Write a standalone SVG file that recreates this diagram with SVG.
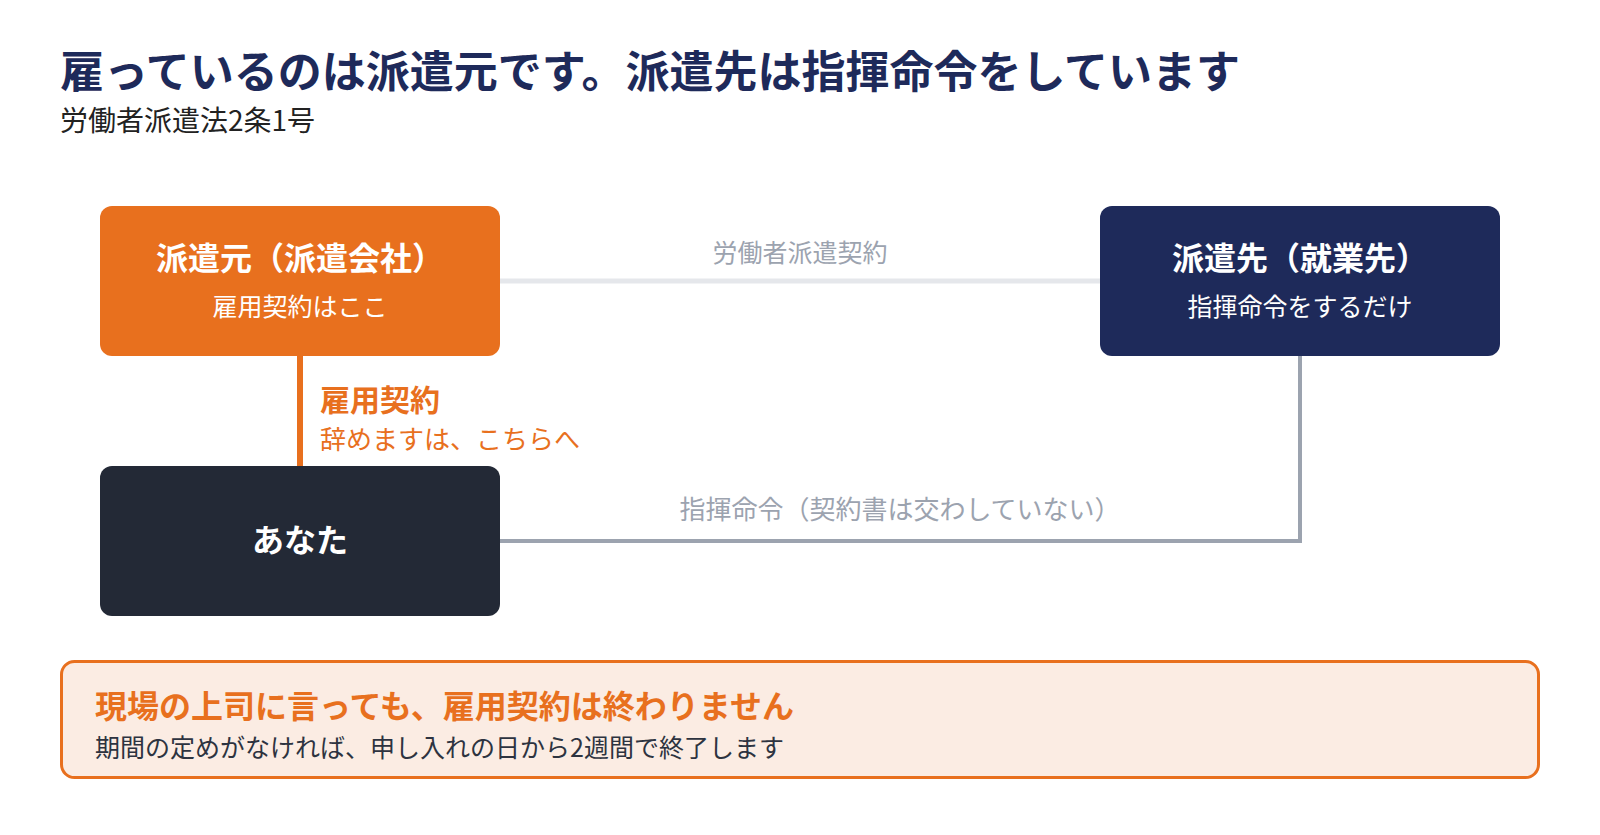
<svg xmlns="http://www.w3.org/2000/svg" width="1600" height="835" viewBox="0 0 1600 835">
<style>
text{font-family:"Noto Sans CJK JP","Noto Sans",sans-serif}
.b{font-weight:700}
.w{fill:#ffffff}
.c{text-anchor:middle}
.lbl{fill:#9ca3af;font-size:25px}
</style>
<rect width="1600" height="835" fill="#ffffff"/>
<g id="title">
<text x="60" y="88" class="b" font-size="44" fill="#1e2a5a">雇っているのは派遣元です。派遣先は指揮命令をしています</text>
<text x="60" y="131" font-size="28" fill="#222222">労働者派遣法2条1号</text>
</g>
<g id="connectors">
<line x1="500" y1="281" x2="1100" y2="281" stroke="#e5e7eb" stroke-width="5"/>
<text x="800" y="262" class="lbl c">労働者派遣契約</text>
<line x1="300" y1="356" x2="300" y2="466" stroke="#e8701e" stroke-width="6"/>
<text x="320" y="411" class="b" font-size="30" fill="#e8701e">雇用契約</text>
<text x="320" y="449" font-size="26" fill="#e8701e">辞めますは、こちらへ</text>
<polyline points="500,541 1300,541 1300,356" fill="none" stroke="#9ca3af" stroke-width="4"/>
<text x="900" y="519" class="lbl c" style="font-size:26px">指揮命令（契約書は交わしていない）</text>
</g>
<g id="haken-moto">
<rect x="100" y="206" width="400" height="150" rx="12" fill="#e8701e"/>
<text x="300" y="270" class="b w c" font-size="32">派遣元（派遣会社）</text>
<text x="300" y="316" class="w c" font-size="25">雇用契約はここ</text>
</g>
<g id="haken-saki">
<rect x="1100" y="206" width="400" height="150" rx="12" fill="#1e2a5a"/>
<text x="1300" y="270" class="b w c" font-size="32">派遣先（就業先）</text>
<text x="1300" y="316" class="w c" font-size="25">指揮命令をするだけ</text>
</g>
<g id="anata">
<rect x="100" y="466" width="400" height="150" rx="12" fill="#232936"/>
<text x="300" y="552" class="b w c" font-size="32">あなた</text>
</g>
<g id="note">
<rect x="61.5" y="661.5" width="1477" height="116" rx="13" fill="#fbece3" stroke="#e8701e" stroke-width="3"/>
<text x="95" y="718" class="b" font-size="32" fill="#e8701e">現場の上司に言っても、雇用契約は終わりません</text>
<text x="95" y="757" font-size="25" fill="#2d3340">期間の定めがなければ、申し入れの日から2週間で終了します</text>
</g>
</svg>
